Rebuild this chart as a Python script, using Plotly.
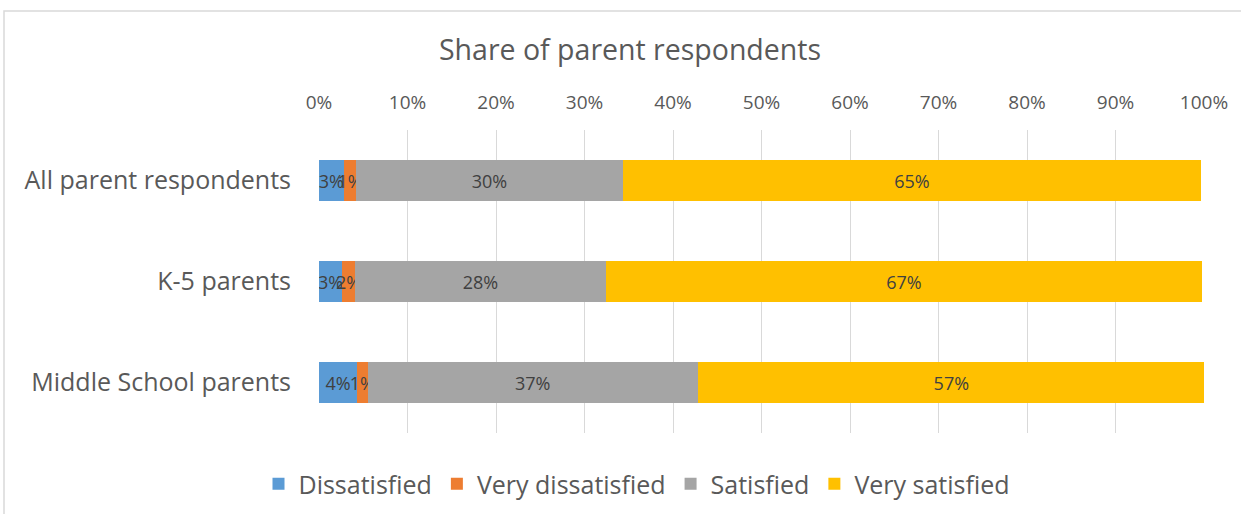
import plotly.graph_objects as go

categories = ["All parent respondents", "K-5 parents", "Middle School parents"]
dissatisfied = [2.8, 2.6, 4.3]
very_dissatisfied = [1.4, 1.5, 1.2]
satisfied = [30.1, 28.3, 37.3]
very_satisfied = [65.4, 67.4, 57.3]
series_names = ["Dissatisfied", "Very dissatisfied", "Satisfied", "Very satisfied"]
colors = ["#5B9BD5", "#ED7D31", "#A5A5A5", "#FFC000"]
tick_vals = [0, 10, 20, 30, 40, 50, 60, 70, 80, 90, 100]
tick_text = [f"{v}%" for v in tick_vals]

FONT = "Open Sans"
fig = go.Figure()
for name, vals, col in zip(series_names,
                           [dissatisfied, very_dissatisfied, satisfied, very_satisfied],
                           colors):
    fig.add_trace(go.Bar(
        y=categories, x=vals, name=name, orientation="h",
        marker=dict(color=col, line=dict(width=0)),
        texttemplate="%{x:.0f}%", textposition="inside", textangle=0,
        insidetextanchor="middle", constraintext="none",
        textfont=dict(family=FONT, size=18, color="#404040"),
        hoverinfo="skip",
    ))

fig.update_layout(
    barmode="stack", bargap=0.6,
    width=1241, height=514,
    margin=dict(l=319, r=37, t=130, b=81),
    paper_bgcolor="white", plot_bgcolor="white",
    title=dict(text="Share of parent respondents", x=630 / 1241, xanchor="center",
               y=1 - 50 / 514, yanchor="middle",
               font=dict(family=FONT, size=28.5, color="#595959")),
    xaxis=dict(side="top", range=[0, 100], tickvals=tick_vals, ticktext=tick_text,
               showgrid=True, gridcolor="#D9D9D9", gridwidth=1, zeroline=False,
               showline=False, ticks="", ticklen=0, ticklabelstandoff=16,
               tickfont=dict(family=FONT, size=19, color="#595959")),
    yaxis=dict(autorange="reversed", showgrid=False, zeroline=False, ticks="",
               ticklabelstandoff=27,
               tickfont=dict(family=FONT, size=25, color="#595959")),
    legend=dict(orientation="h", x=637 / 1241, xanchor="center", xref="container",
                y=30 / 514, yanchor="middle", yref="container",
                font=dict(family=FONT, size=25, color="#595959"),
                itemwidth=30, traceorder="normal"),
    showlegend=True,
)
fig.add_shape(type="rect", xref="paper", yref="paper",
              x0=(4 - 319) / 885, x1=1.2, y0=-0.5, y1=(433 - 11) / 303,
              line=dict(color="#D9D9D9", width=1.5), fillcolor="rgba(0,0,0,0)",
              layer="below")
fig.write_html("out.html", config={"displayModeBar": False},
               post_script="document.body.style.margin='0';document.body.style.padding='0';")
